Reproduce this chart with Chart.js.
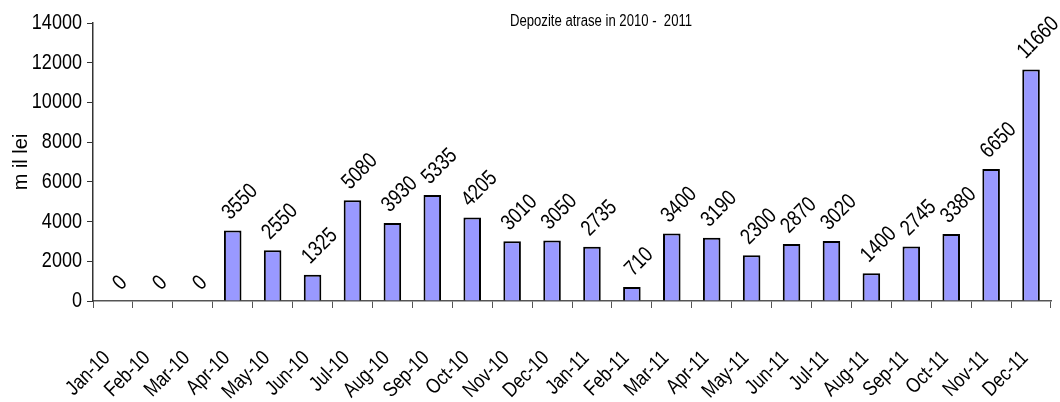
<!DOCTYPE html>
<html>
<head>
<meta charset="utf-8">
<script src="https://cdn.jsdelivr.net/npm/chart.js@4.4.1/dist/chart.umd.min.js"></script>
<style>
html,body{margin:0;padding:0;background:#fff;}
#wrap{width:1060px;height:402px;position:relative;}
</style>
</head>
<body>
<div id="wrap"><canvas id="c" width="1060" height="402"></canvas></div>
<script>
const categories = ["Jan-10","Feb-10","Mar-10","Apr-10","May-10","Jun-10","Jul-10","Aug-10","Sep-10","Oct-10","Nov-10","Dec-10","Jan-11","Feb-11","Mar-11","Apr-11","May-11","Jun-11","Jul-11","Aug-11","Sep-11","Oct-11","Nov-11","Dec-11"];
const deposits = [0,0,0,3550,2550,1325,5080,3930,5335,4205,3010,3050,2735,710,3400,3190,2300,2870,3020,1400,2745,3380,6650,11660];
const yTicks = [0,2000,4000,6000,8000,10000,12000,14000];
const chartTitle = "Depozite atrase in 2010 -  2011";
const yTitle = "m il lei";

const FONT = "'Liberation Sans', Arial, sans-serif";

// Narrow-font emulation: horizontally condense Liberation Sans text (the original uses a narrow Arial).
const SX = 0.82;
let condense = true;
(function () {
  const P = CanvasRenderingContext2D.prototype;
  const origFill = P.fillText, origMeasure = P.measureText;
  P.fillText = function (t, x, y, mw) {
    if (!condense) return origFill.call(this, t, x, y, mw);
    this.save();
    this.translate(x, y);
    this.scale(SX, 1);
    origFill.call(this, t, 0, 0);
    this.restore();
  };
  P.measureText = function (t) {
    const m = origMeasure.call(this, t);
    if (!condense) return m;
    return {
      width: m.width * SX,
      actualBoundingBoxLeft: m.actualBoundingBoxLeft * SX,
      actualBoundingBoxRight: m.actualBoundingBoxRight * SX,
      actualBoundingBoxAscent: m.actualBoundingBoxAscent,
      actualBoundingBoxDescent: m.actualBoundingBoxDescent,
      fontBoundingBoxAscent: m.fontBoundingBoxAscent,
      fontBoundingBoxDescent: m.fontBoundingBoxDescent
    };
  };
})();

const labelPlugin = {
  id: 'barLabels',
  afterDatasetsDraw(chart) {
    const ctx = chart.ctx;
    const meta = chart.getDatasetMeta(0);
    ctx.save();
    ctx.font = '22px ' + FONT;
    ctx.fillStyle = '#000';
    ctx.textAlign = 'center';
    ctx.textBaseline = 'alphabetic';
    const cap = 16;
    meta.data.forEach((bar, i) => {
      const txt = String(deposits[i]);
      const L = ctx.measureText(txt).width;
      const W = (L + cap) * Math.SQRT1_2;
      const cx = bar.x + 6;
      const cy = bar.y - 10 - W / 2;
      ctx.save();
      ctx.translate(cx, cy);
      ctx.rotate(-Math.PI / 4);
      ctx.fillText(txt, 0, cap / 2);
      ctx.restore();
    });
    ctx.restore();
  },
  afterDraw(chart) {
    const ctx = chart.ctx;
    ctx.save();
    ctx.fillStyle = '#000';
    ctx.font = '16px ' + FONT;
    ctx.textAlign = 'center';
    ctx.textBaseline = 'middle';
    ctx.fillText(chartTitle, 601, 22);
    condense = false;
    ctx.font = '20px ' + FONT;
    ctx.translate(21, chart.chartArea.top + (chart.chartArea.bottom - chart.chartArea.top) / 2);
    ctx.rotate(-Math.PI / 2);
    ctx.fillText(yTitle, 0, 0);
    condense = true;
    ctx.restore();
  }
};

new Chart(document.getElementById('c'), {
  type: 'bar',
  data: {
    labels: categories,
    datasets: [{
      data: deposits,
      backgroundColor: '#9999FF',
      borderColor: '#000000',
      borderWidth: 2,
      borderSkipped: 'bottom',
      barPercentage: 0.44,
      categoryPercentage: 1.0
    }]
  },
  options: {
    responsive: false,
    animation: false,
    devicePixelRatio: 1,
    layout: { padding: { top: 23, right: 9, left: 0, bottom: 0 } },
    plugins: {
      legend: { display: false },
      title: { display: false },
      tooltip: { enabled: false }
    },
    scales: {
      x: {
        offset: true,
        grid: { display: true, drawOnChartArea: false, offset: true, tickLength: 7, color: '#555', lineWidth: 1 },
        border: { display: true, color: '#555', width: 1.5 },
        ticks: {
          maxRotation: 45, minRotation: 45, autoSkip: false,
          font: { size: 21, family: FONT }, color: '#000',
          padding: 38, labelOffset: -6
        },
        afterFit(scale) { scale.height = 101; scale.paddingRight = 0; scale.paddingLeft = 0; }
      },
      y: {
        min: 0, max: 14000,
        afterBuildTicks(scale) { scale.ticks = yTicks.map(v => ({ value: v })); },
        grid: { display: true, drawOnChartArea: false, tickLength: 6, color: '#333' },
        border: { display: true, color: '#333', width: 1.5 },
        ticks: { font: { size: 22, family: FONT }, color: '#000', padding: 5, callback: (v) => String(v) },
        afterFit(scale) { scale.width = 93; }
      }
    }
  },
  plugins: [labelPlugin]
});
</script>
</body>
</html>
